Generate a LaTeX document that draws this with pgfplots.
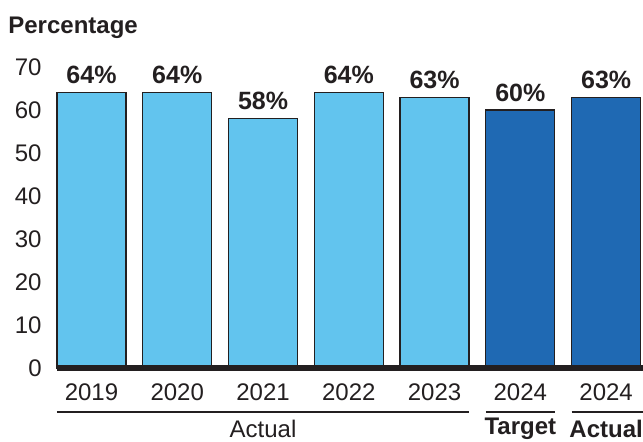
\documentclass[border=0pt]{standalone}
\usepackage{pgfplots}
\pgfplotsset{compat=1.18}
\usepackage{fontspec}
\setmainfont{Liberation Sans}
\definecolor{lightbar}{HTML}{62C4EE}
\definecolor{darkbar}{HTML}{1F69B3}
\definecolor{txt}{HTML}{231F20}
\begin{document}
\fontsize{12}{14.4}\selectfont
\begin{tikzpicture}
\begin{axis}[
  scale only axis, width=293pt, height=150.5pt,
  xmin=-0.402, xmax=6.43, ymin=0, ymax=70,
  axis line style={draw=none}, tick style={draw=none},
  ytick={0,10,...,70},
  xtick={0,...,6}, xticklabels={2019,2020,2021,2022,2023,2024,2024},
  xticklabel style={anchor=center, yshift=-8pt},
  yticklabel style={anchor=east, xshift=-3.5pt},
  tick label style={text=txt, font=\fontsize{12}{14.4}\selectfont},
  /pgf/number format/assume math mode=true,
  ybar, bar width=34.5pt, bar shift=0pt,
  clip=false,
  nodes near coords={\pgfmathprintnumber{\pgfplotspointmeta}\%},
  every node near coord/.append style={font=\fontsize{12.5}{15}\selectfont\bfseries, text=txt},
]
\addplot[fill=lightbar, draw=txt, line width=0.6pt] coordinates {(0,64) (1,64) (2,58) (3,64) (4,63)};
\addplot[fill=darkbar, draw=txt, line width=0.6pt] coordinates {(5,60) (6,63)};
\coordinate (o) at (rel axis cs:0,0);
\draw[line width=2.7pt, txt] (axis cs:-0.402,0) -- (axis cs:6.43,0);
\draw[line width=0.8pt, txt] ([yshift=-22pt]axis cs:-0.4025,0) -- ([yshift=-22pt]axis cs:4.4025,0);
\draw[line width=0.8pt, txt] ([yshift=-22pt]axis cs:4.5975,0) -- ([yshift=-22pt]axis cs:5.4025,0);
\draw[line width=0.8pt, txt] ([yshift=-22pt]axis cs:5.5975,0) -- ([yshift=-22pt]axis cs:6.43,0);
\node[text=txt, yshift=-30.5pt] at (axis cs:2,0) {Actual};
\node[text=txt, yshift=-30.5pt, font=\bfseries] at (axis cs:5,0) {Target};
\node[text=txt, yshift=-30.5pt, font=\bfseries] at (axis cs:6,0) {Actual};
\node[text=txt, anchor=west, inner sep=0pt, xshift=-24.5pt, yshift=19.5pt, font=\bfseries] at (rel axis cs:0,1) {Percentage};
\end{axis}
\pgfresetboundingbox
\path (o) ++(-28.5pt,-36.5pt) rectangle ++(321.5pt,220.5pt);
\end{tikzpicture}
\end{document}
